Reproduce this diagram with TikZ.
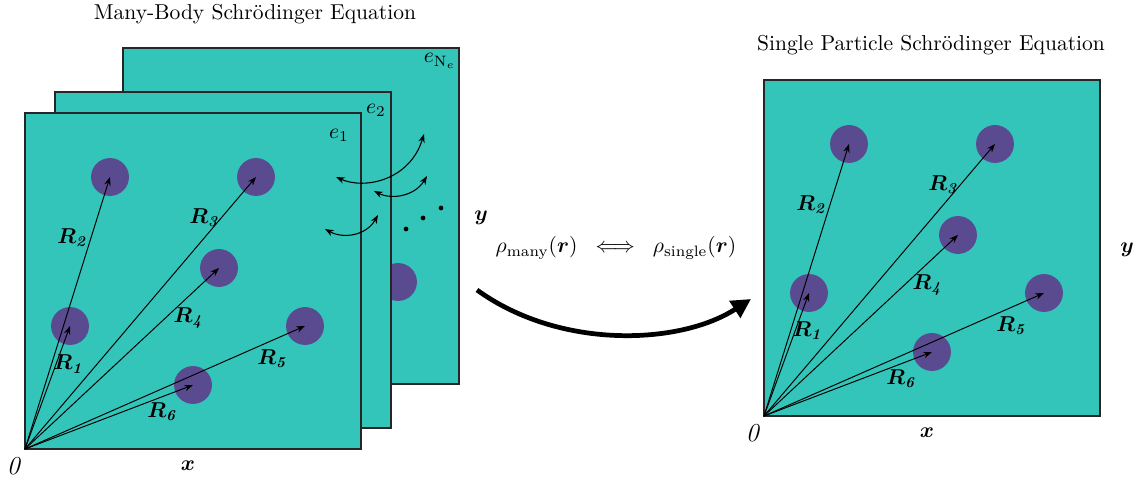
\documentclass[tikz,border=0pt]{standalone}
\usepackage{amsmath,bm}
\usetikzlibrary{arrows.meta}
\definecolor{panelc}{RGB}{52,197,186}
\definecolor{atomc}{RGB}{90,75,145}
\begin{document}
\begin{tikzpicture}[x=0.4643pt,y=-0.4643pt,
  panel/.style={draw=black!85,fill=panelc,line width=0.6pt},
  atom/.style={circle,fill=atomc,minimum size=17.6pt,inner sep=0pt},
  vec/.style={-{Stealth[length=4pt,width=3pt]},line width=0.45pt},
  swaparr/.style={{Stealth[length=4pt,width=3pt]}-{Stealth[length=4pt,width=3pt]},line width=0.5pt},
  bigarr/.style={line width=2.2pt,-{Triangle[length=9pt,width=9pt]}},
  dotnode/.style={circle,fill=black,minimum size=2.2pt,inner sep=0pt},
  txt/.style={inner sep=0pt}]
\useasboundingbox (0,0) rectangle (1137,482);
% titles
\node[txt] (t1) at (255,14) {Many-Body Schr\"odinger Equation};
\node[txt] (t2) at (931,45) {Single Particle Schr\"odinger Equation};
% stacked panels
\path[panel] (123,48) rectangle (459,384);
\node[atom] (hid) at (398,282) {};
\path[panel] (55,92) rectangle (391,428);
\path[panel] (25,113) rectangle (361,449);
% single panel
\path[panel] (764,80) rectangle (1100,416);
% panel labels
\node[txt] (e1) at (339,135) {$e_1$};
\node[txt] (e2) at (376,110) {$e_2$};
\node[txt] (eN) at (440,61) {$e_{\mathrm{N}_e}$};
% atoms, vectors, labels
\foreach \p/\ox/\oy in {L/25/449,S/764/416}{
  \coordinate (\p O) at (\ox,\oy);
  \foreach \i/\dx/\dy in {1/45/-123,2/85/-272,3/231/-272,4/194/-181,5/280/-123,6/168/-64}{
    \node[atom] (\p a\i) at ([shift={(\dx,\dy)}]\p O) {};
  }
  \foreach \i/\lx/\ly in {1/43/-85,2/47/-211,3/179/-231,4/163/-131,5/247/-90,6/137/-37}{
    \draw[vec] (\p O) -- (\p a\i.center);
    \node[txt] (\p r\i) at ([shift={(\lx,\ly)}]\p O) {$\bm{R}_{\text{\textbf{\textit{\i}}}}$};
  }
  \node[txt] (\p x) at ([shift={(163,17)}]\p O) {$\bm{x}$};
  \node[txt,font=\large] (\p z) at ([shift={(-11,17)}]\p O) {\textit{0}};
}
\node[txt] (Ly) at (481,218) {$\bm{y}$};
\node[txt] (Sy) at (1127,250) {$\bm{y}$};
% exchange arrows
\coordinate (s1a) at (336,177); \coordinate (s1b) at (424,134);
\coordinate (s2a) at (374,191); \coordinate (s2b) at (427,176);
\coordinate (s3a) at (325,229); \coordinate (s3b) at (378,215);
\draw[swaparr] (s1a) .. controls (365,190) and (410,180) .. (s1b);
\draw[swaparr] (s2a) .. controls (392,200) and (415,196) .. (s2b);
\draw[swaparr] (s3a) .. controls (343,239) and (366,236) .. (s3b);
\node[dotnode] (d1) at (406,229) {};
\node[dotnode] (d2) at (423,218) {};
\node[dotnode] (d3) at (441,208) {};
% middle
\node[txt] (rho) at (616,248) {$\rho_{\text{many}}(\bm{r})\;\iff\;\rho_{\text{single}}(\bm{r})$};
\coordinate (bs) at (477,290);
\coordinate (be) at (751,299);
\draw[bigarr] (bs) .. controls (560,350) and (680,345) .. (be);
\end{tikzpicture}
\end{document}
